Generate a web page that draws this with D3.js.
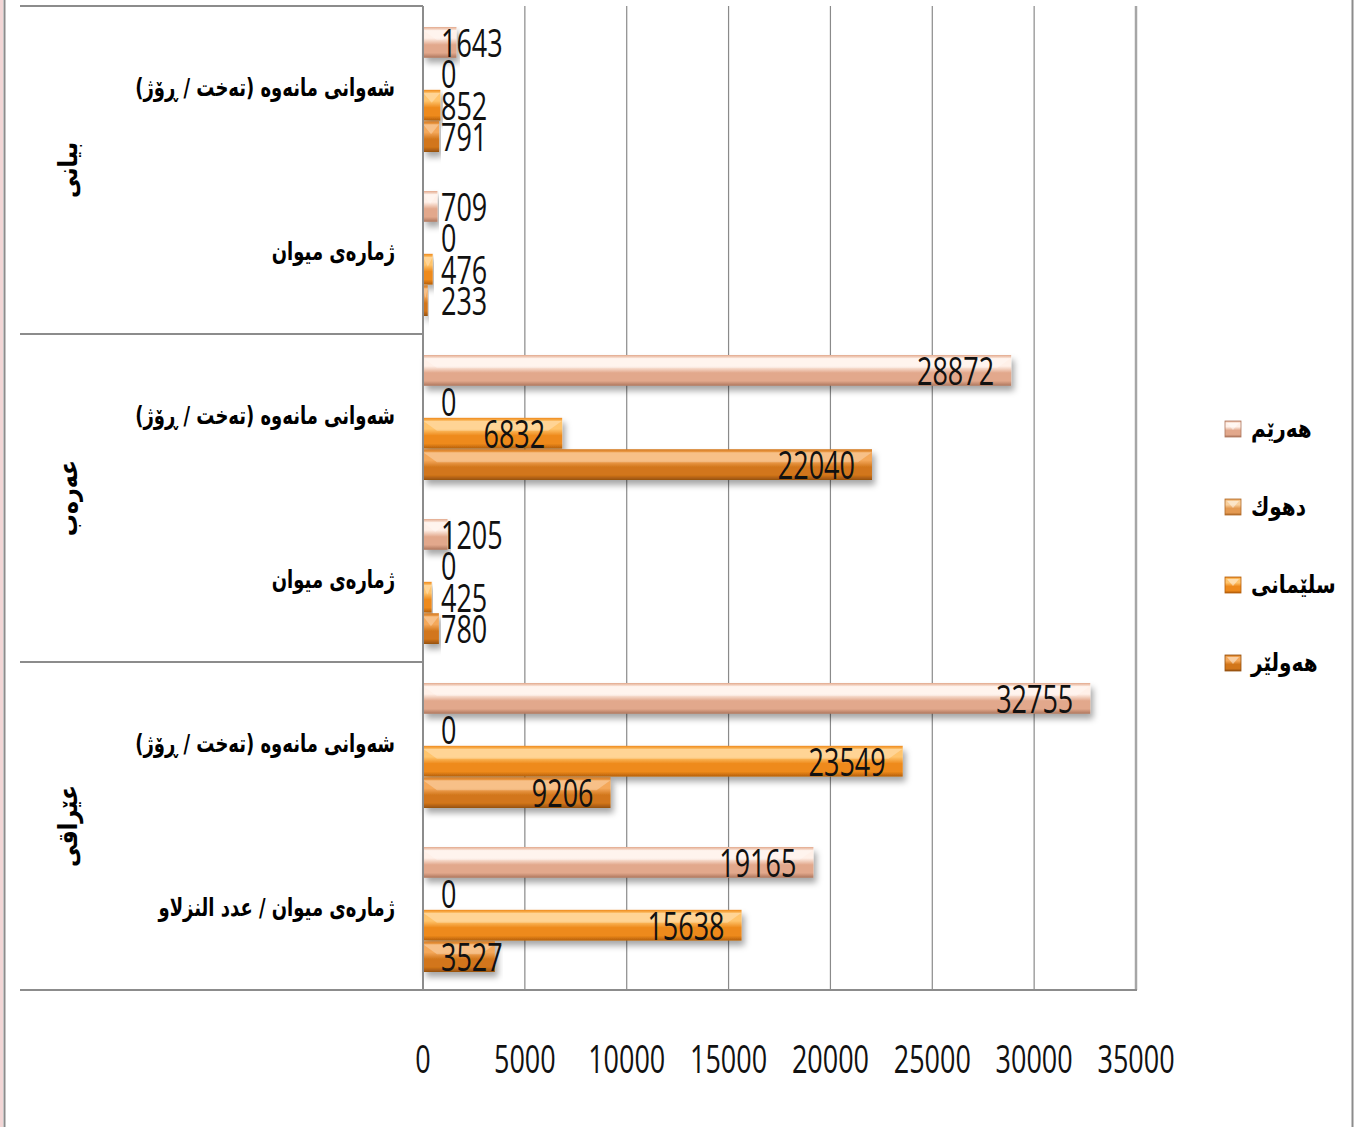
<!DOCTYPE html>
<html>
<head>
<meta charset="utf-8">
<script src="https://cdn.jsdelivr.net/npm/d3@7"></script>
<style>
  body { margin: 0; background: #fff; }
  .num { font-family: "Open Sans", sans-serif; font-size: 38px; fill: #111; }
  .ar { font-family: "DejaVu Sans", sans-serif; font-weight: bold; fill: #000; }
</style>
</head>
<body>
<div id="chart"></div>
<script>
  // rows, top to bottom
  var rowGroups = ["بیانی", "بیانی", "عەرەب", "عەرەب", "عێراقی", "عێراقی"];
  var rowLabels = ["شەوانی مانەوە (تەخت / ڕۆژ)", "ژمارەی میوان",
                   "شەوانی مانەوە (تەخت / ڕۆژ)", "ژمارەی میوان",
                   "شەوانی مانەوە (تەخت / ڕۆژ)", "ژمارەی میوان / عدد النزلاو"];
  var groups = ["بیانی", "عەرەب", "عێراقی"];

  // series, top to bottom inside a row (same order as the legend)
  var seriesNames = ["هەرێم", "دهوك", "سلێمانی", "هەولێر"];
  var hareem  = [1643, 709, 28872, 1205, 32755, 19165];
  var dhok    = [0, 0, 0, 0, 0, 0];
  var slemani = [852, 476, 6832, 425, 23549, 15638];
  var hawler  = [791, 233, 22040, 780, 9206, 3527];
  var xTicks = [0, 5000, 10000, 15000, 20000, 25000, 30000, 35000];

  var seriesValues = [hareem, dhok, slemani, hawler];
  var seriesColors = [
    {base: "#e2a88c", light: "#fff0e8", dark: "#ad765d"},
    {base: "#e49a52", light: "#f8cf9c", dark: "#b06a28"},
    {base: "#ee8a1c", light: "#ffc46c", dark: "#b45e0a"},
    {base: "#d2761a", light: "#f4a85a", dark: "#955010"}
  ];

  var W = 1355, H = 1127;
  var plot = {left: 423, right: 1136, top: 6, bottom: 990};
  var numScale = 0.71, arScale = 0.72;

  var svg = d3.select("#chart").append("svg")
    .attr("width", W).attr("height", H);

  var defs = svg.append("defs");
  var shadow = defs.append("filter").attr("id", "shadow")
    .attr("x", "-5%").attr("y", "-30%").attr("width", "115%").attr("height", "180%");
  shadow.append("feDropShadow").attr("dx", 3).attr("dy", 5)
    .attr("stdDeviation", 3).attr("flood-color", "#000").attr("flood-opacity", 0.35);

  seriesColors.forEach(function (c, i) {
    var g = defs.append("linearGradient").attr("id", "grad" + i)
      .attr("x1", 0).attr("y1", 0).attr("x2", 0).attr("y2", 1);
    g.append("stop").attr("offset", "0%").attr("stop-color", c.base);
    g.append("stop").attr("offset", "12%").attr("stop-color", c.light);
    g.append("stop").attr("offset", "36%").attr("stop-color", c.light);
    g.append("stop").attr("offset", "58%").attr("stop-color", c.base);
    g.append("stop").attr("offset", "84%").attr("stop-color", c.base);
    g.append("stop").attr("offset", "100%").attr("stop-color", c.dark);
  });

  var x = d3.scaleLinear().domain([0, 35000]).range([plot.left, plot.right]);
  var y = d3.scaleBand().domain(d3.range(rowLabels.length))
    .range([plot.top, plot.bottom]).padding(0);
  var yInner = d3.scaleBand().domain(d3.range(seriesNames.length))
    .range([21, 146]).paddingInner(0.02);

  // outer chart frame
  svg.append("rect").attr("x", 0).attr("y", 0).attr("width", 3).attr("height", H)
    .attr("fill", "#f2d6d6");
  svg.append("line").attr("x1", 4.5).attr("x2", 4.5).attr("y1", 0).attr("y2", H)
    .attr("stroke", "#8c8c8c").attr("stroke-width", 2);
  svg.append("line").attr("x1", 1352.5).attr("x2", 1352.5).attr("y1", 0).attr("y2", H)
    .attr("stroke", "#8c8c8c").attr("stroke-width", 2);

  // gridlines
  svg.append("g").selectAll("line").data(xTicks.slice(1))
    .join("line")
      .attr("x1", function (d) { return x(d); })
      .attr("x2", function (d) { return x(d); })
      .attr("y1", plot.top).attr("y2", plot.bottom)
      .attr("stroke", function (d) { return d === 35000 ? "#a6a6a6" : "#8a8a8a"; })
      .attr("stroke-width", function (d) { return d === 35000 ? 2.5 : 1.2; });

  // bars
  var rows = svg.append("g").selectAll("g").data(d3.range(rowLabels.length))
    .join("g")
      .attr("transform", function (r) { return "translate(0," + y(r) + ")"; });

  var bars = rows.selectAll("g.bar")
    .data(function (r) {
      return seriesValues.map(function (vals, s) { return {row: r, s: s, v: vals[r]}; });
    })
    .join("g").attr("class", "bar");

  bars.filter(function (d) { return d.v > 0; })
    .append("rect")
      .attr("x", plot.left)
      .attr("y", function (d) { return yInner(d.s); })
      .attr("width", function (d) { return x(d.v) - plot.left; })
      .attr("height", yInner.bandwidth())
      .attr("fill", function (d) { return "url(#grad" + d.s + ")"; })
      .attr("filter", "url(#shadow)");

  // bevel chevrons at the bar ends
  bars.filter(function (d) { return d.v > 0; })
    .append("path")
      .attr("d", function (d) {
        var y0 = yInner(d.s), h = yInner.bandwidth(), x0 = plot.left, x1 = x(d.v);
        var b = Math.min(14, (x1 - x0) / 2);
        return "M" + x0 + "," + (y0 + 3) + "L" + (x0 + b) + "," + (y0 + h * 0.42) +
          "L" + (x1 - b) + "," + (y0 + h * 0.42) + "L" + x1 + "," + (y0 + 3) + "Z";
      })
      .attr("fill", "#fff").attr("opacity", 0.28);

  // value labels
  bars.append("g").attr("class", "lab")
    .each(function (d) {
      var g = d3.select(this);
      var t = g.append("text").attr("class", "num").attr("dy", "0.36em").text(d.v);
      var w = t.node().getComputedTextLength() * numScale;
      var left = Math.max(plot.left + 18, x(d.v) - 17 - w);
      g.attr("transform", "translate(" + left + "," + (yInner(d.s) + yInner.bandwidth() / 2 + 1) +
        ") scale(" + numScale + ",1)");
    });

  // category axis frame
  var frame = svg.append("g").attr("stroke", "#8c8c8c").attr("stroke-width", 2);
  [0, 2, 4].forEach(function (r) {
    frame.append("line").attr("x1", 20).attr("x2", plot.left)
      .attr("y1", y(r)).attr("y2", y(r));
  });
  frame.append("line").attr("x1", 20).attr("x2", plot.right + 1)
    .attr("y1", plot.bottom).attr("y2", plot.bottom);
  frame.append("line").attr("x1", plot.left).attr("x2", plot.left)
    .attr("y1", plot.top).attr("y2", plot.bottom);

  // row labels
  svg.append("g").selectAll("g").data(rowLabels)
    .join("g")
      .attr("transform", function (d, i) {
        return "translate(395," + (y(i) + y.bandwidth() / 2) + ") scale(" + arScale + ",1)";
      })
    .append("text")
      .attr("class", "ar")
      .attr("dy", "0.3em")
      .attr("text-anchor", "end")
      .style("font-size", "25px")
      .text(function (d) { return d; });

  // group labels, rotated
  svg.append("g").selectAll("text").data(groups)
    .join("text")
      .attr("class", "ar")
      .attr("text-anchor", "middle")
      .style("font-size", "26px")
      .attr("transform", function (d, i) {
        var cy = y(i * 2) + y.bandwidth();
        return "translate(68," + cy + ") rotate(-90) scale(" + 0.85 + ",1)";
      })
      .attr("dy", "0.35em")
      .text(function (d) { return d; });

  // x axis tick labels
  svg.append("g").selectAll("g").data(xTicks)
    .join("g")
      .attr("transform", function (d) { return "translate(" + x(d) + ",1059) scale(" + numScale + ",1)"; })
    .append("text")
      .attr("class", "num")
      .attr("text-anchor", "middle")
      .attr("dy", "0.36em")
      .text(function (d) { return d; });

  // legend
  var legend = svg.append("g").selectAll("g").data(seriesNames)
    .join("g")
      .attr("transform", function (d, i) { return "translate(1225," + (421 + i * 78) + ")"; });
  legend.append("rect")
    .attr("width", 16).attr("height", 16)
    .attr("fill", function (d, i) { return "url(#grad" + i + ")"; })
    .attr("stroke", function (d, i) { return seriesColors[i].dark; })
    .attr("stroke-width", 0.8);
  legend.append("path")
    .attr("d", "M2,2L8,9L14,2Z")
    .attr("fill", "#fff").attr("opacity", 0.45);
  legend.append("g")
    .attr("transform", "translate(26,8) scale(0.8,1)")
    .append("text")
      .attr("class", "ar")
      .attr("dy", "0.3em")
      .style("font-size", "25px")
      .text(function (d) { return d; });
</script>
</body>
</html>
